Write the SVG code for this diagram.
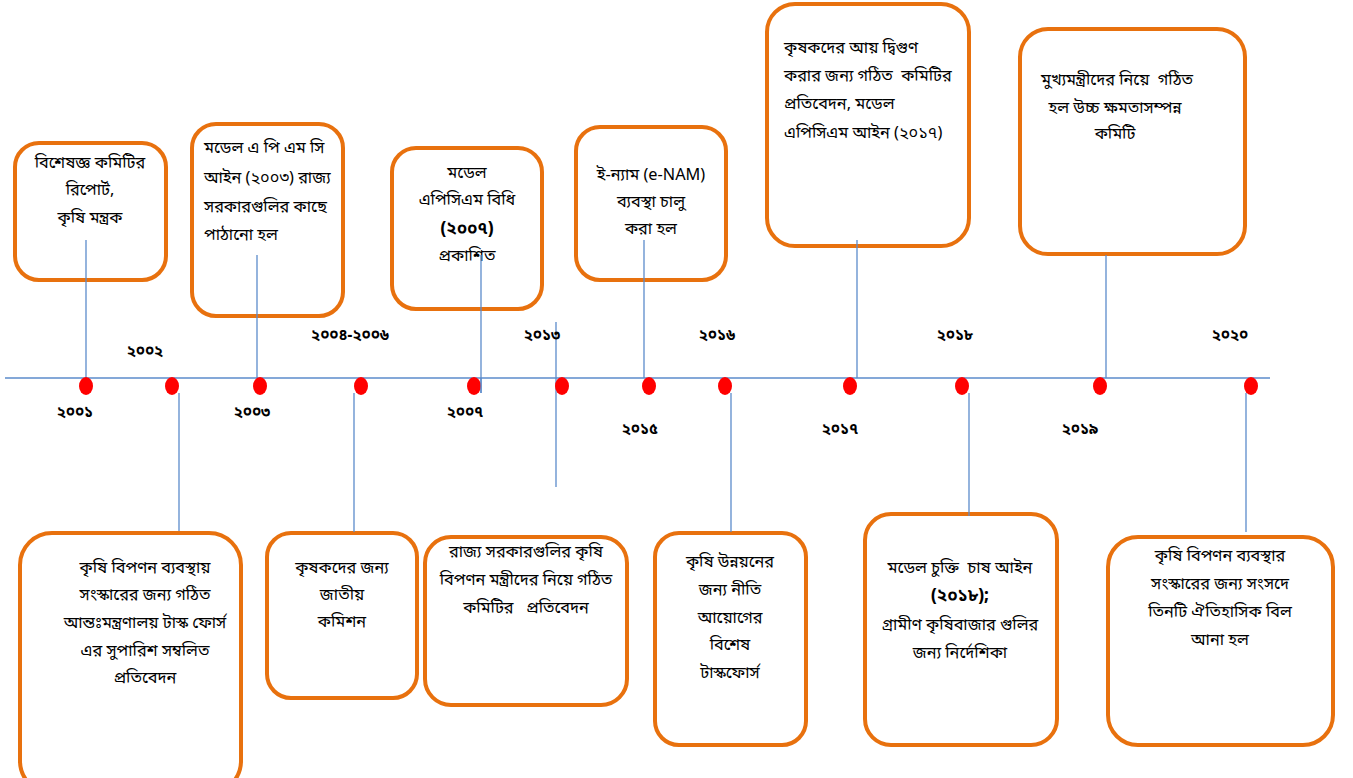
<svg xmlns="http://www.w3.org/2000/svg" width="1353" height="778" viewBox="0 0 1353 778">
<style>
.box{fill:#fff;stroke:#E8710E;stroke-width:4}
.ln{stroke:#5B8BCB;stroke-width:1.3;fill:none}
.dot{fill:#FF0000}
text{font-family:"Noto Sans Bengali","Noto Serif Bengali","Lohit Bengali","Noto Sans",sans-serif;font-size:16.3px;fill:#000;white-space:pre}
.c{text-anchor:middle}
.yr{font-size:15px;font-weight:bold;text-anchor:middle}
.b{font-weight:bold;font-size:17px}
</style>
<rect width="1353" height="778" fill="#fff"/>
<g id="n2001">
<rect class="box" x="15" y="143" width="151" height="137" rx="24"/>
<text class="c" x="90" y="168">বিশেষজ্ঞ কমিটির</text>
<text class="c" x="90" y="195">রিপোর্ট,</text>
<text class="c" x="90" y="223">কৃষি মন্ত্রক</text>
</g>
<g id="n2003">
<rect class="box" x="192" y="124" width="151" height="192" rx="24"/>
<text x="204" y="153">মডেল এ পি এম সি</text>
<text x="204" y="183">আইন (২০০৩) রাজ্য</text>
<text x="204" y="212">সরকারগুলির কাছে</text>
<text x="204" y="240">পাঠানো হল</text>
</g>
<g id="n2007">
<rect class="box" x="392" y="148" width="150" height="161" rx="24"/>
<text class="c" x="467" y="178">মডেল</text>
<text class="c" x="467" y="205">এপিসিএম বিধি</text>
<text class="c b" x="467" y="234">(২০০৭)</text>
<text class="c" x="467" y="261">প্রকাশিত</text>
</g>
<g id="n2015">
<rect class="box" x="576" y="127" width="150" height="153" rx="24"/>
<text class="c" x="651" y="180">ই-ন্যাম (e-NAM)</text>
<text class="c" x="651" y="207">ব্যবস্থা চালু</text>
<text class="c" x="651" y="234">করা হল</text>
</g>
<g id="n2017">
<rect class="box" x="767" y="4" width="202" height="242" rx="28"/>
<text x="784" y="53">কৃষকদের আয় দ্বিগুণ</text>
<text x="784" y="81">করার জন্য গঠিত  কমিটির</text>
<text x="784" y="109">প্রতিবেদন, মডেল</text>
<text x="784" y="138">এপিসিএম আইন (২০১৭)</text>
</g>
<g id="n2019">
<rect class="box" x="1020" y="29" width="225" height="225" rx="28"/>
<text class="c" x="1117" y="85">মুখ্যমন্ত্রীদের নিয়ে  গঠিত</text>
<text class="c" x="1115" y="113">হল উচ্চ ক্ষমতাসম্পন্ন</text>
<text class="c" x="1115" y="139">কমিটি</text>
</g>
<g id="n2002">
<rect class="box" x="20" y="533" width="221" height="260" rx="32"/>
<text class="c" x="145" y="573">কৃষি বিপণন ব্যবস্থায়</text>
<text class="c" x="145" y="600">সংস্কারের জন্য গঠিত</text>
<text class="c" x="145" y="628">আন্তঃমন্ত্রণালয় টাস্ক ফোর্স</text>
<text class="c" x="145" y="656">এর সুপারিশ সম্বলিত</text>
<text class="c" x="145" y="683">প্রতিবেদন</text>
</g>
<g id="n2004">
<rect class="box" x="267" y="533" width="150" height="165" rx="24"/>
<text class="c" x="342" y="573">কৃষকদের জন্য</text>
<text class="c" x="342" y="600">জাতীয়</text>
<text class="c" x="342" y="627">কমিশন</text>
</g>
<g id="n2013">
<rect class="box" x="425" y="537" width="202" height="168" rx="26"/>
<text class="c" x="526" y="557">রাজ্য সরকারগুলির কৃষি</text>
<text class="c" x="526" y="585">বিপণন মন্ত্রীদের নিয়ে গঠিত</text>
<text class="c" x="526" y="613">কমিটির   প্রতিবেদন</text>
</g>
<g id="n2016">
<rect class="box" x="655" y="533" width="151" height="212" rx="24"/>
<text class="c" x="730" y="567">কৃষি উন্নয়নের</text>
<text class="c" x="730" y="595">জন্য নীতি</text>
<text class="c" x="730" y="623">আয়োগের</text>
<text class="c" x="730" y="650">বিশেষ</text>
<text class="c" x="730" y="678">টাস্কফোর্স</text>
</g>
<g id="n2018">
<rect class="box" x="865" y="514" width="192" height="231" rx="26"/>
<text class="c" x="960" y="573">মডেল চুক্তি  চাষ আইন</text>
<text class="c b" x="960" y="601">(২০১৮);</text>
<text class="c" x="960" y="630">গ্রামীণ কৃষিবাজার গুলির</text>
<text class="c" x="960" y="658">জন্য নির্দেশিকা</text>
</g>
<g id="n2020">
<rect class="box" x="1108" y="537" width="225" height="208" rx="30"/>
<text class="c" x="1220" y="561">কৃষি বিপণন ব্যবস্থার</text>
<text class="c" x="1220" y="589">সংস্কারের জন্য সংসদে</text>
<text class="c" x="1220" y="617">তিনটি ঐতিহাসিক বিল</text>
<text class="c" x="1220" y="645">আনা হল</text>
</g>
<g id="connectors">
<line class="ln" x1="5" y1="378" x2="1270" y2="378"/>
<line class="ln" x1="86" y1="240" x2="86" y2="378"/>
<line class="ln" x1="257" y1="255" x2="257" y2="378"/>
<line class="ln" x1="481" y1="255" x2="481" y2="393"/>
<line class="ln" x1="556" y1="322" x2="556" y2="487"/>
<line class="ln" x1="644" y1="240" x2="644" y2="378"/>
<line class="ln" x1="857" y1="240" x2="857" y2="378"/>
<line class="ln" x1="1106" y1="255" x2="1106" y2="378"/>
<line class="ln" x1="179" y1="393" x2="179" y2="531"/>
<line class="ln" x1="354" y1="393" x2="354" y2="532"/>
<line class="ln" x1="731" y1="393" x2="731" y2="532"/>
<line class="ln" x1="969" y1="393" x2="969" y2="516"/>
<line class="ln" x1="1246" y1="393" x2="1246" y2="532"/>
</g>
<g id="dots">
<ellipse class="dot" cx="86" cy="386" rx="7" ry="9"/>
<ellipse class="dot" cx="172" cy="386" rx="7" ry="9"/>
<ellipse class="dot" cx="260" cy="386" rx="7" ry="9"/>
<ellipse class="dot" cx="361" cy="386" rx="7" ry="9"/>
<ellipse class="dot" cx="474" cy="386" rx="7" ry="9"/>
<ellipse class="dot" cx="562" cy="386" rx="7" ry="9"/>
<ellipse class="dot" cx="649" cy="386" rx="7" ry="9"/>
<ellipse class="dot" cx="725" cy="386" rx="7" ry="9"/>
<ellipse class="dot" cx="850" cy="386" rx="7" ry="9"/>
<ellipse class="dot" cx="962" cy="386" rx="7" ry="9"/>
<ellipse class="dot" cx="1100" cy="386" rx="7" ry="9"/>
<ellipse class="dot" cx="1251" cy="386" rx="7" ry="9"/>
</g>
<line class="ln" x1="481" y1="378" x2="481" y2="393"/>
<g id="years">
<text class="yr" x="75" y="417">২০০১</text>
<text class="yr" x="145" y="356">২০০২</text>
<text class="yr" x="252" y="417">২০০৩</text>
<text class="yr" x="350" y="340">২০০৪-২০০৬</text>
<text class="yr" x="465" y="417">২০০৭</text>
<text class="yr" x="542" y="340">২০১৩</text>
<text class="yr" x="640" y="434">২০১৫</text>
<text class="yr" x="717" y="340">২০১৬</text>
<text class="yr" x="840" y="434">২০১৭</text>
<text class="yr" x="955" y="340">২০১৮</text>
<text class="yr" x="1080" y="434">২০১৯</text>
<text class="yr" x="1230" y="340">২০২০</text>
</g>
</svg>
